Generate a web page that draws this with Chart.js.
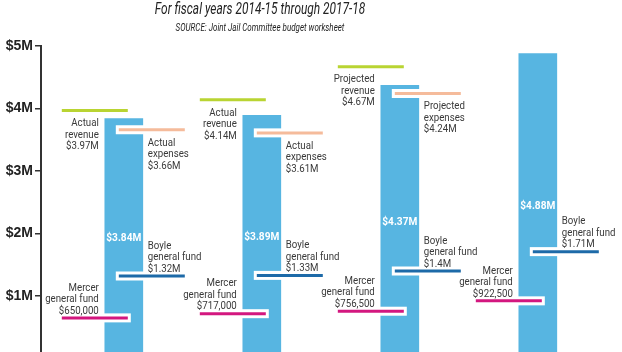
<!DOCTYPE html>
<html>
<head>
<meta charset="utf-8">
<script src="https://cdn.jsdelivr.net/npm/chart.js@4.4.0/dist/chart.umd.min.js"></script>
<style>
  html, body { margin: 0; background: #fff; }
  #wrap { width: 622px; height: 352px; position: relative; }
</style>
</head>
<body>
<div id="wrap"><canvas id="chart"></canvas></div>
<script>
// fiscal years and jail budget figures ($M unless noted)
const years = ['2014-15', '2015-16', '2016-17', '2017-18'];
const totals = [3.84, 3.89, 4.37, 4.88];
const revenue = [3.97, 4.14, 4.67, null];
const expenses = [3.66, 3.61, 4.24, null];
const boyleFund = [1.32, 1.33, 1.4, 1.71];
const mercerFund = [650000, 717000, 756500, 922500]; // dollars
const kindWord = ['Actual', 'Actual', 'Projected', null];
const yTicks = [1, 2, 3, 4, 5];

const fmtM = v => '$' + v + 'M';
const fmtD = v => '$' + v.toLocaleString('en-US');

function drawText(ctx, text, x, y, align, font, color, sx) {
  ctx.save();
  ctx.font = font;
  ctx.fillStyle = color;
  ctx.textAlign = align;
  ctx.textBaseline = 'middle';
  ctx.translate(x, y);
  ctx.scale(sx, 1);
  ctx.fillText(text, 0, 0);
  ctx.restore();
}

const labelFont = '11px Roboto, "Liberation Sans", sans-serif';
const labelColor = '#3a3a3a';

// marker lines: revenue/expenses labels sit below, fund labels sit above
const markers = [
  { vals: revenue, side: 'left', color: '#b9d432', below: true,
    lines: i => [kindWord[i], 'revenue', fmtM(revenue[i])] },
  { vals: expenses, side: 'right', color: '#f5bb9b', below: true,
    lines: i => [kindWord[i], 'expenses', fmtM(expenses[i])] },
  { vals: boyleFund, side: 'right', color: '#1d6aa8', below: false,
    lines: i => ['Boyle', 'general fund', fmtM(boyleFund[i])] },
  { vals: mercerFund.map(v => v / 1e6), side: 'left', color: '#d3177f', below: false,
    lines: i => ['Mercer', 'general fund', fmtD(mercerFund[i])] }
];

const markerPlugin = {
  id: 'markers',
  afterDatasetsDraw(chart) {
    const { ctx, scales: { x, y } } = chart;

    // titles
    drawText(ctx, `For fiscal years ${years[0]} through ${years[3]}`, 260, 10, 'center',
      'italic 17px Roboto, "Liberation Sans", sans-serif', '#222', 0.7);
    drawText(ctx, 'SOURCE: Joint Jail Committee budget worksheet', 260, 28, 'center',
      'italic 10px Roboto, "Liberation Sans", sans-serif', '#222', 0.8);

    // bar value labels
    totals.forEach((v, i) => {
      const cx = x.getPixelForValue(i);
      const my = (y.getPixelForValue(v) + y.getPixelForValue(0)) / 2;
      drawText(ctx, fmtM(v), cx, my, 'center',
        'bold 11px Roboto, "Liberation Sans", sans-serif', '#fff', 0.92);
    });

    const segs = [];
    markers.forEach(m => {
      m.vals.forEach((v, i) => {
        if (v == null) return;
        const cx = x.getPixelForValue(i);
        const ly = y.getPixelForValue(v);
        const x1 = m.side === 'left' ? cx - 62 : cx - 5;
        const x2 = m.side === 'left' ? cx + 4 : cx + 61;
        segs.push({ m, i, cx, ly, x1, x2 });
      });
    });

    ctx.save();
    // white knockout where lines cross the bars
    ctx.fillStyle = '#fff';
    segs.forEach(s => ctx.fillRect(s.x1 - 3, s.ly - 4.5, s.x2 - s.x1 + 6, 9));
    ctx.lineWidth = 3;
    segs.forEach(s => {
      ctx.strokeStyle = s.m.color;
      ctx.beginPath();
      ctx.moveTo(s.x1, s.ly);
      ctx.lineTo(s.x2, s.ly);
      ctx.stroke();
    });
    ctx.restore();

    segs.forEach(s => {
      const lines = s.m.lines(s.i);
      const tx = s.m.side === 'left' ? s.cx - 25 : s.cx + 24;
      const align = s.m.side === 'left' ? 'right' : 'left';
      const lh = 11.5;
      const y0 = s.m.below ? s.ly + 13 : s.ly - 7 - lh * (lines.length - 1);
      lines.forEach((t, k) => drawText(ctx, t, tx, y0 + k * lh, align, labelFont, labelColor, 0.88));
    });
  }
};

new Chart(document.getElementById('chart'), {
  type: 'bar',
  data: {
    datasets: [{
      data: totals.map((v, i) => ({ x: i, y: v })),
      backgroundColor: '#57b5e1',
      barThickness: 38,
      borderWidth: 0
    }]
  },
  options: {
    responsive: true,
    maintainAspectRatio: false,
    animation: false,
    layout: { padding: { top: 46, left: 0, right: 0, bottom: 0 } },
    plugins: { legend: { display: false }, tooltip: { enabled: false } },
    scales: {
      x: { type: 'linear', min: -0.6, max: 3.61, offset: false, display: false },
      y: {
        min: 0.104, max: 5,
        afterBuildTicks: s => { s.ticks = yTicks.map(v => ({ value: v })); },
        afterFit: s => { s.width = 41; s.paddingTop = 0; s.paddingBottom = 0; },
        ticks: {
          callback: v => fmtM(v),
          color: '#222',
          padding: 2,
          font: { family: '"Liberation Sans", Arial, sans-serif', weight: 'bold', size: 14 }
        },
        grid: { drawOnChartArea: false, drawTicks: true, tickLength: 6, color: '#333', lineWidth: 1.5 },
        border: { color: '#333', width: 2 }
      }
    }
  },
  plugins: [markerPlugin]
});
</script>
</body>
</html>
